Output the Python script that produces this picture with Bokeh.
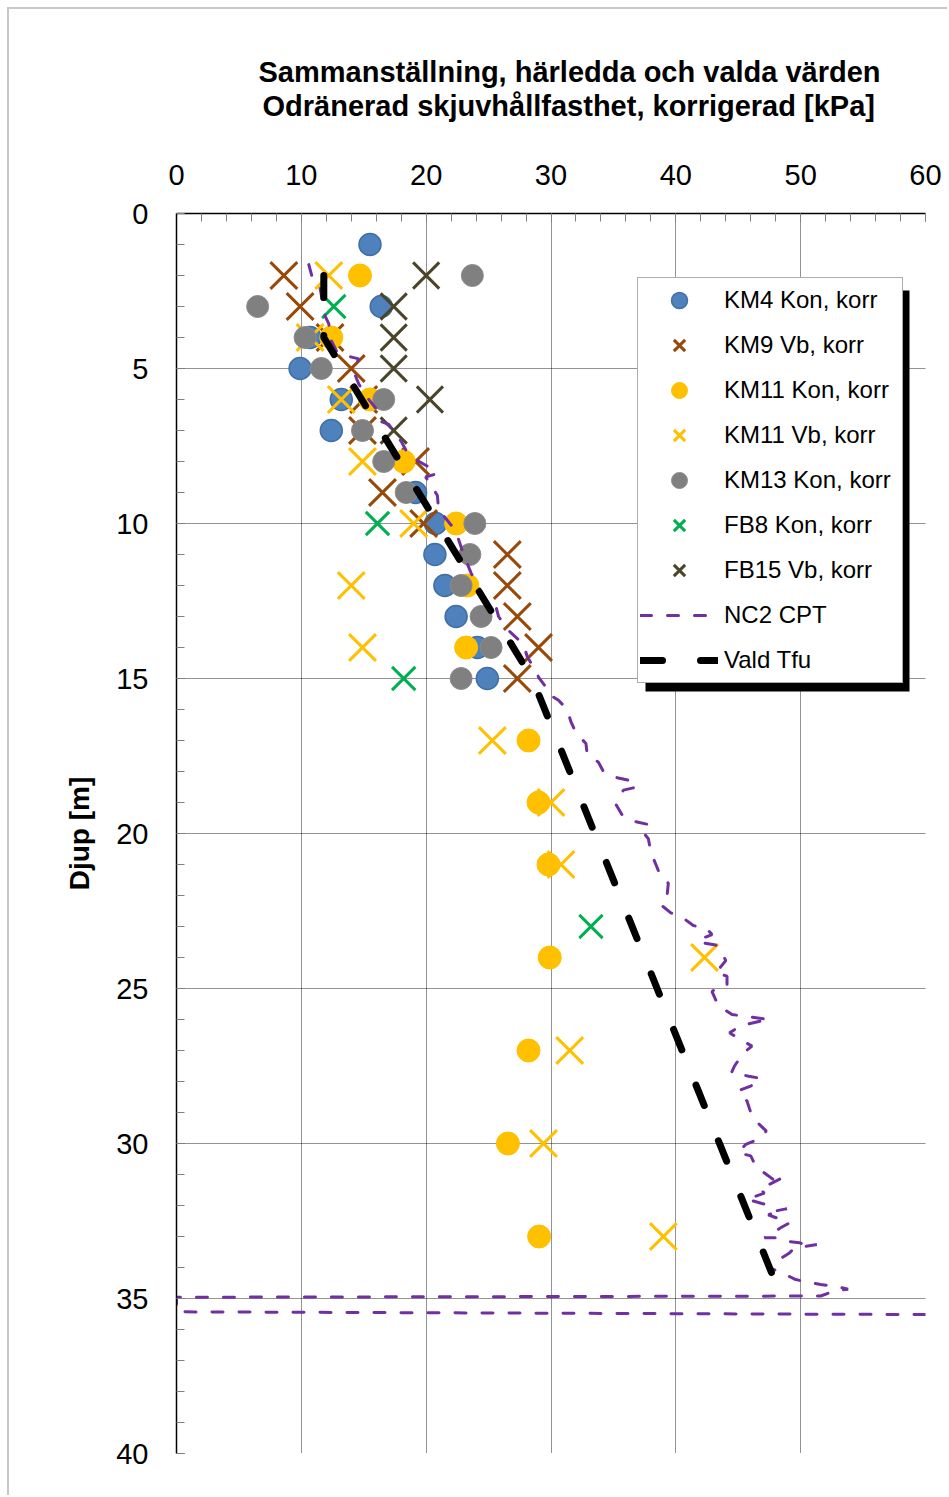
from bokeh.plotting import figure
from bokeh.models import Range1d, Legend, LegendItem, Title, BoxAnnotation, FixedTicker
from bokeh.embed import file_html
from bokeh.resources import INLINE

FONT = "Liberation Sans"

# ---- data (depth [m], corrected undrained shear strength [kPa]) ----
km4_depth = [1, 3, 4, 5, 6, 7, 9, 10, 11, 12, 13, 14, 15]
km4_su = [15.5, 16.4, 10.7, 9.9, 13.2, 12.4, 19.15, 20.75, 20.7, 21.5, 22.4, 24.1, 24.9]

km9_depth = [2, 3, 4, 5, 6, 7, 8, 9, 10, 11, 12, 13, 14, 15]
km9_su = [8.6, 9.9, 12.3, 14.0, 15.0, 14.9, 19.15, 16.5, 19.8, 26.5, 26.5, 27.3, 29.0, 27.3]

km11k_depth = [2, 4, 6, 8, 10, 12, 14, 17, 19, 21, 24, 27, 30, 33]
km11k_su = [14.7, 12.4, 15.5, 18.2, 22.4, 23.3, 23.2, 28.2, 29.0, 29.8, 29.9, 28.2, 26.55, 29.05]

km11v_depth = [2, 4, 6, 8, 10, 12, 14, 17, 19, 21, 24, 27, 30, 33]
km11v_su = [12.2, 10.7, 13.2, 14.9, 19.0, 14.0, 14.9, 25.3, 30.0, 30.8, 42.3, 31.5, 29.4, 39.0]

km13_depth = [2, 3, 4, 5, 6, 7, 8, 9, 10, 11, 12, 13, 14, 15]
km13_su = [23.7, 6.5, 10.3, 11.6, 16.6, 14.9, 16.6, 18.4, 23.9, 23.5, 22.8, 24.4, 25.2, 22.8]

fb8_depth = [3, 10, 15, 23]
fb8_su = [12.6, 16.1, 18.2, 33.2]

fb15_depth = [2, 3, 4, 5, 6, 7]
fb15_su = [20.0, 17.4, 17.4, 17.4, 20.3, 17.4]

cpt_depth = [1.65, 2.1, 2.4, 3.3, 3.56, 4.1, 4.5, 4.58, 4.69, 5.0, 5.2, 5.5, 5.95, 6.3, 6.7, 6.8,
             7.2, 7.35, 7.65, 7.95, 8.15, 8.2, 8.4, 8.5, 8.75, 9.1, 9.58, 9.75, 10.2, 10.4, 11.0,
             11.6, 12.2, 12.5, 12.7, 13.0, 13.45, 13.6, 13.9, 14.3, 14.84, 14.96, 15.28, 15.5,
             15.7, 16.0, 16.4, 16.75, 17.1, 17.45, 17.7, 18.0, 18.2, 18.3, 18.5, 18.6, 19.06,
             19.4, 19.6, 19.7, 19.87, 20.17, 20.6, 21.0, 21.4, 21.6, 22.0, 22.3, 22.56, 22.7,
             22.97, 23.04, 23.26, 23.4, 23.5, 23.6, 23.85, 24.1, 24.5, 24.6, 24.9, 25.0, 25.1,
             25.55, 25.84, 26.0, 26.05, 26.2, 26.43, 26.65, 26.86, 27.08, 27.5, 27.72, 27.83,
             27.9, 28.15, 28.3, 28.63, 29.0, 29.33, 29.6, 29.87, 30.03, 30.3, 30.4, 30.73, 30.95,
             31.16, 31.08, 31.48, 31.6, 31.8, 32.0, 32.18, 32.1, 32.3, 32.45, 32.56, 32.72,
             33.04, 33.04, 33.15, 33.2, 33.3, 33.26, 33.37, 33.53, 34.0, 34.1, 34.2, 34.39,
             34.47, 34.55, 34.6, 34.7, 34.76, 34.92, 34.96, 35.43, 35.52]
cpt_su = [10.6, 10.9, 11.5, 11.9, 12.2, 12.4, 12.9, 13.5, 14.6, 14.2, 14.3, 14.6, 15.3, 16.0, 16.3, 17.0,
          17.7, 18.0, 18.4, 19.2, 20.1, 20.6, 20.8, 19.95, 20.4, 20.9, 21.0, 21.4, 22.3, 22.5, 23.0,
          23.6, 24.4, 24.8, 25.6, 25.8, 26.6, 27.0, 27.8, 28.1, 28.9, 29.0, 29.6, 29.8,
          30.6, 31.3, 31.6, 32.0, 32.8, 32.9, 33.8, 34.2, 35.3, 36.4, 36.9, 35.8, 35.2,
          35.7, 36.6, 37.7, 37.2, 37.8, 38.0, 38.4, 38.8, 39.4, 39.3, 38.8, 39.6, 40.5,
          41.4, 42.4, 42.9, 42.0, 41.8, 43.2, 43.7, 44.0, 43.2, 44.1, 44.1, 43.2, 42.9,
          43.4, 44.5, 47.5, 46.8, 45.2, 44.3, 45.2, 46.1, 45.4, 44.7, 44.45, 45.85,
          46.8, 46.0, 45.0, 45.7, 46.0, 46.55, 47.25, 46.55, 45.6, 45.0, 46.0, 46.4, 47.1,
          47.8, 48.65, 46.7, 47.1, 45.7, 47.5, 47.95, 48.9, 47.4, 48.4, 49.1, 48.4,
          47.1, 48.1, 48.8, 49.9, 50.5, 51.3, 49.5, 49.1, 47.3, 48.1, 48.65, 49.6,
          50.6, 51.6, 52.7, 53.8, 52.7, 51.6, 0.0, 0.0, 61.0]

vald_depth = [2, 4, 15, 35]
vald_su = [11.8, 11.8, 28.5, 48.5]

x_ticks = [0, 10, 20, 30, 40, 50, 60]
y_ticks = [0, 5, 10, 15, 20, 25, 30, 35, 40]

title_1 = "Sammanställning, härledda och valda värden"
title_2 = "Odränerad skjuvhållfasthet, korrigerad [kPa]"
y_title = "Djup [m]"

OFF = 9  # offset of the chart inside its light-grey outer border

# ---- figure ----
p = figure(width=949 - OFF, height=1497 - OFF, x_range=Range1d(0, 60), y_range=Range1d(40, 0),
           x_axis_location="above", output_backend="svg", toolbar_location=None,
           min_border_left=176 - OFF, min_border_right=24, min_border_top=213 - OFF,
           min_border_bottom=44)
p.styles = {"margin-left": "7px", "margin-top": "7px",
            "border-left": "2px solid #c8c8c8", "border-top": "2px solid #c8c8c8"}
p.outline_line_color = None
p.background_fill_color = "white"
p.border_fill_color = "white"

# axes
p.xaxis.ticker = FixedTicker(ticks=x_ticks, minor_ticks=list(range(0, 61, 2)))
p.yaxis.ticker = FixedTicker(ticks=y_ticks, minor_ticks=list(range(0, 41)))
for ax in (p.xaxis[0], p.yaxis[0]):
    ax.major_label_text_font = FONT
    ax.major_label_text_font_size = "29px"
    ax.major_label_text_color = "black"
    ax.axis_line_color = "black"
    ax.axis_line_width = 1.5
    ax.major_tick_in = 8
    ax.major_tick_out = 0
    ax.minor_tick_in = 8
    ax.minor_tick_out = 0
    ax.major_tick_line_color = "#404040"
    ax.minor_tick_line_color = "#808080"
p.xaxis.major_label_standoff = 29
p.yaxis.major_label_standoff = 28
p.yaxis.axis_label = y_title
p.yaxis.axis_label_text_font = FONT
p.yaxis.axis_label_text_font_size = "28px"
p.yaxis.axis_label_text_font_style = "bold"
p.yaxis.axis_label_text_color = "black"
p.yaxis.axis_label_standoff = 18

p.grid.grid_line_color = "#000000"
p.grid.grid_line_dash = "1 1"
p.grid.grid_line_width = 1
p.grid.grid_line_alpha = 0.85

# titles
t2 = Title(text=title_2, align="left", offset=86, text_font=FONT, text_font_size="29px",
           text_font_style="bold", text_color="black", standoff=80)
p.add_layout(t2, "above")
t1 = Title(text=title_1, align="left", offset=82, text_font=FONT, text_font_size="29px",
           text_font_style="bold", text_color="black", standoff=-81)
p.add_layout(t1, "above")

# ---- series ----
r_km4 = p.scatter(km4_su, km4_depth, marker="circle", size=22, fill_color="#4F81BD",
                  line_color="#3F6FA5", line_width=1.5)
r_km9 = p.scatter(km9_su, km9_depth, marker="x", size=38, line_color="#984807", line_width=3)
r_km11k = p.scatter(km11k_su, km11k_depth, marker="circle", size=23, fill_color="#FFC000",
                    line_color="#FFC000", line_width=1)
r_km11v = p.scatter(km11v_su, km11v_depth, marker="x", size=38, line_color="#FFC000", line_width=3)
r_km13 = p.scatter(km13_su, km13_depth, marker="circle", size=22, fill_color="#808080",
                   line_color="#8C8C8C", line_width=1)
r_fb8 = p.scatter(fb8_su, fb8_depth, marker="x", size=33, line_color="#00B050", line_width=3)
r_fb15 = p.scatter(fb15_su, fb15_depth, marker="x", size=37, line_color="#4A452A", line_width=3)
r_cpt = p.line(cpt_su, cpt_depth, line_color="#7030A0", line_width=3, line_dash="11 16",
               line_cap="round")
r_vald = p.line(vald_su, vald_depth, line_color="black", line_width=7, line_dash="22 38",
                line_cap="round")

# legend shadow then legend
shadow = BoxAnnotation(left=643 - OFF, right=907 - OFF, top=288 - OFF, bottom=689 - OFF,
                       left_units="canvas", right_units="canvas", top_units="canvas",
                       bottom_units="canvas", fill_color="black", fill_alpha=1, line_color=None)
p.add_layout(shadow)

legend = Legend(items=[
    LegendItem(label="KM4 Kon, korr", renderers=[r_km4]),
    LegendItem(label="KM9 Vb, korr", renderers=[r_km9]),
    LegendItem(label="KM11 Kon, korr", renderers=[r_km11k]),
    LegendItem(label="KM11 Vb, korr", renderers=[r_km11v]),
    LegendItem(label="KM13 Kon, korr", renderers=[r_km13]),
    LegendItem(label="FB8 Kon, korr", renderers=[r_fb8]),
    LegendItem(label="FB15 Vb, korr", renderers=[r_fb15]),
    LegendItem(label="NC2 CPT", renderers=[r_cpt]),
    LegendItem(label="Vald Tfu", renderers=[r_vald]),
], location=(461, 770))
legend.label_text_font = FONT
legend.label_text_font_size = "24px"
legend.label_text_color = "black"
legend.padding = 2
legend.spacing = 5
legend.glyph_width = 78
legend.glyph_height = 40
legend.label_height = 30
legend.label_width = 176
legend.label_standoff = 6
legend.margin = 0
legend.border_line_color = "#595959"
legend.border_line_width = 1
legend.background_fill_color = "white"
legend.background_fill_alpha = 1
p.add_layout(legend)

open("out.html", "w").write(file_html(p, INLINE))
